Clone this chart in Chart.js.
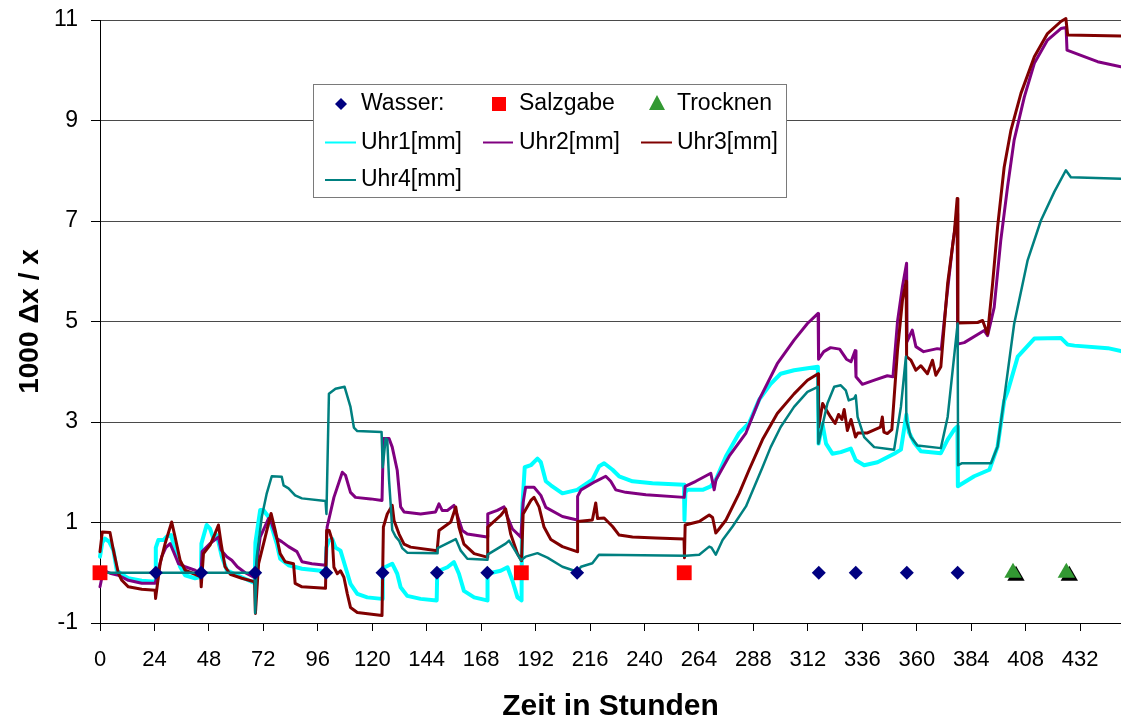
<!DOCTYPE html>
<html>
<head>
<meta charset="utf-8">
<script src="https://cdn.jsdelivr.net/npm/chart.js@4/dist/chart.umd.min.js"></script>
<style>
  html, body { margin: 0; padding: 0; background: #fff; }
  #wrap { width: 1121px; height: 722px; }
</style>
</head>
<body>
<div id="wrap"><canvas id="chart" width="1121" height="722"></canvas></div>
<script>
// Time axis ticks (hours) and strain axis ticks
const xTicks = [0, 24, 48, 72, 96, 120, 144, 168, 192, 216, 240, 264, 288, 312, 336, 360, 384, 408, 432];
const yTicks = [-1, 1, 3, 5, 7, 9, 11];

// Event markers: hour at which each event happened (drawn on the zero line)
const wasserHours = [24.6, 44.6, 68.4, 99.7, 124.5, 148.5, 170.7, 210.3, 316.8, 333.1, 355.6, 378.0];
const salzgabeHours = [0, 185.7, 257.5];
const trocknenHours = [402.4, 425.9];

// Dial gauge readings: [hour, 1000·Δx/x]
const uhr1 = [
  [0,0.32],[1,0.6],[2.2,0.68],[4,0.62],[5.9,0.45],[7.4,0.05],[9.5,-0.03],[12.5,-0.11],[18.4,-0.16],[24.3,-0.18],
  [24.6,0.5],[25.7,0.65],[28,0.65],[29.4,0.72],[31.3,0.75],[33.1,0.45],[35.3,0.12],[37.5,-0.05],[41.9,-0.11],[44.5,-0.08],
  [44.7,0.58],[47,0.95],[48.5,0.88],[50,0.68],[51.5,0.75],[53.7,0.32],[55.9,0.05],[59.6,-0.03],[65.4,-0.15],[68.2,-0.21],
  [68.5,0.6],[70.6,1.25],[72,1.25],[74.3,1.11],[75.7,0.91],[77.9,0.58],[79.4,0.28],[83.1,0.15],[89,0.08],[99.4,0.03],
  [99.8,0.5],[100.9,0.64],[102.4,0.67],[103.8,0.5],[106,0.44],[108.2,0.11],[110.4,-0.22],[113.4,-0.42],[117.8,-0.49],[124.3,-0.52],
  [124.6,0.05],[125.5,0.11],[128.8,0.18],[131,-0.02],[132.5,-0.29],[135.4,-0.46],[141.3,-0.52],[148.4,-0.55],
  [148.6,-0.05],[149.4,0.04],[153.1,0.11],[156,0.21],[158.2,-0.02],[160.4,-0.36],[164.9,-0.49],[170.6,-0.55],
  [170.8,-0.02],[176.6,0.04],[179.6,0.11],[181.8,-0.16],[184,-0.49],[185.8,-0.55],
  [186,1.2],[187.2,2.1],[189.9,2.14],[192.8,2.27],[194.3,2.2],[196.5,1.82],[198.7,1.74],[203.8,1.58],[210.3,1.65],
  [217,1.85],[220,2.12],[222.2,2.18],[225.9,2.05],[228.8,1.92],[234.7,1.82],[243.5,1.78],[257.4,1.75],
  [257.6,1.05],[258,1.6],[258.9,1.65],[265.6,1.65],[269.2,1.72],[271.4,1.85],[275.9,2.32],[281.7,2.78],[286.1,2.98],
  [290.6,3.45],[295.6,3.76],[300,3.96],[305.9,4.03],[316.4,4.1],
  [316.7,2.57],[318.4,2.97],[320,2.57],[322.8,2.37],[326.5,2.4],[330.9,2.47],[333.1,2.24],[336.8,2.14],[342.7,2.2],
  [350,2.37],[353,2.45],[355.4,3.15],[356.5,2.8],[358.9,2.58],[361.8,2.42],[370.6,2.38],[373.6,2.65],[376.5,2.85],[377.9,2.91],
  [378.1,1.72],[385.3,1.92],[392,2.05],[395.6,2.51],[398.5,3.42],[400,3.6],[404.5,4.3],[411.8,4.66],[423.6,4.67],
  [426.5,4.54],[429.5,4.52],[444.2,4.47],[450,4.41]
];

const uhr2 = [
  [0,-0.28],[1.5,0.05],[4.4,-0.01],[8.1,-0.05],[12.5,-0.15],[18.4,-0.21],[24.3,-0.21],
  [27.2,0.32],[29,0.5],[30.9,0.58],[32.4,0.42],[34.6,0.18],[37.5,0.12],[41.9,0.05],[44.5,-0.05],
  [45,0.42],[48.5,0.58],[52.2,0.71],[53.4,0.45],[55.9,0.32],[58.1,0.25],[60.5,0.12],[64,0.0],[68.2,-0.1],
  [70.6,0.71],[74.3,1.08],[75.7,0.98],[77.9,0.68],[80.1,0.62],[83.1,0.52],[86.8,0.42],[89,0.22],[93.4,0.18],[99.5,0.15],
  [100.1,0.91],[103.1,1.5],[106.8,2.0],[108.2,1.94],[110.4,1.6],[112.6,1.5],[119.3,1.47],[124.3,1.44],
  [124.9,2.67],[127.4,2.67],[128.8,2.5],[131,2.04],[132.5,1.31],[134,1.21],[141.3,1.17],[147.9,1.21],[149.4,1.37],
  [150.8,1.24],[153.1,1.24],[156,1.34],[157.5,1.14],[159.7,0.84],[161.9,0.77],[170.6,0.71],
  [170.9,1.17],[175.1,1.24],[178.1,1.31],[179.6,1.11],[181.8,0.87],[185.5,0.71],
  [186.5,1.4],[187.6,1.7],[191.3,1.7],[194.3,1.54],[196.5,1.3],[203.8,1.12],[210.3,1.05],
  [210.5,1.52],[212,1.65],[218.5,1.82],[222.9,1.92],[225.1,1.82],[227.3,1.65],[231.7,1.6],[240.6,1.55],[257.5,1.5],
  [257.9,1.72],[262.6,1.82],[269.2,1.98],[270.7,1.65],[271.5,1.85],[277.3,2.32],[284.7,2.78],[290.6,3.45],[298.5,4.16],
  [305.9,4.63],[311.8,4.96],[316.5,5.16],
  [316.7,4.25],[319,4.4],[322,4.48],[326,4.45],[329,4.25],[331,4.2],[332.8,4.42],[333.2,3.9],[336,3.75],[341,3.83],
  [347,3.92],[349.5,3.9],[351.5,5.0],[353.7,5.7],[355.5,6.16],
  [355.7,4.6],[358,4.83],[359.6,4.5],[363,4.4],[369,4.46],[370.8,4.45],[373,5.4],[376,6.6],[377.8,7.15],
  [378,4.55],[380.9,4.58],[389.7,4.82],[391.2,4.72],[394.1,5.28],[397,6.61],[400,7.68],[402.9,8.61],[407.4,9.47],
  [411.8,10.14],[417.6,10.6],[423.5,10.83],[425.8,10.85],
  [426.2,10.4],[433.8,10.27],[439.7,10.17],[450,10.07]
];

const uhr3 = [
  [0,0.42],[1,0.81],[4.4,0.8],[5.9,0.45],[8.1,-0.01],[9.6,-0.15],[12.5,-0.28],[18.4,-0.33],[24.3,-0.35],[24.5,-0.51],
  [26.5,0.18],[28.7,0.58],[31.6,1.01],[33.1,0.71],[35.3,0.25],[37.5,0.05],[41.9,-0.03],[44.4,-0.08],[44.6,-0.28],
  [45.6,0.38],[48.5,0.55],[50.7,0.78],[52.2,0.95],[53.4,0.58],[55.1,0.12],[57.4,-0.03],[62.5,-0.11],[68.1,-0.18],[68.5,-0.81],
  [69.9,0.18],[72.8,0.71],[75.4,1.18],[77.2,0.85],[79.4,0.38],[81.6,0.22],[85.3,0.18],[86,-0.21],[89,-0.28],[99.4,-0.31],
  [99.9,0.84],[101,0.84],[102.4,0.64],[103.1,0.11],[104.6,-0.02],[106,0.04],[107.5,-0.09],[109,-0.42],[110.4,-0.69],
  [113.4,-0.79],[124.3,-0.85],
  [124.9,0.91],[126.6,1.17],[128.8,1.34],[129.6,1.04],[131.8,0.77],[134,0.57],[136.9,0.51],[148.6,0.44],
  [149.4,0.84],[154.6,1.01],[156.8,1.31],[158.2,0.91],[160.4,0.57],[164.9,0.38],[170.6,0.31],
  [170.9,0.91],[176.6,1.14],[178.8,1.27],[181,0.77],[184,0.38],[185.8,0.24],
  [186.5,1.17],[189.9,1.44],[191.3,1.5],[193.5,1.31],[195.7,0.91],[198.7,0.66],[203.8,0.52],[210.3,0.42],
  [210.5,1.02],[217,1.05],[218.5,1.39],[219.3,1.08],[222.2,1.09],[225.9,0.92],[228.8,0.75],[234.7,0.71],[245,0.69],
  [257.4,0.67],[257.6,0.3],[257.9,0.95],
  [264.1,1.02],[268.5,1.15],[270,1.1],[271.4,0.79],[272.5,0.85],[275.9,1.05],[281.7,1.58],[286.1,2.05],[292,2.65],
  [298.5,3.17],[305.9,3.56],[311.8,3.83],[316.5,3.96],
  [316.7,2.9],[318.5,3.37],[320,3.25],[322,3.1],[324,2.97],[325.5,3.15],[327,3.05],[328,3.25],[329.4,2.83],[331,3.05],
  [333,2.7],[334,2.78],[338,2.78],[344,2.9],[344.8,3.1],[345.5,2.8],[347,2.77],[349,2.85],[351.5,4.43],[353.7,5.43],[355.3,5.8],
  [355.5,4.3],[357.4,4.23],[359.6,4.03],[361.8,4.12],[364.7,3.96],[366.9,4.23],[368.4,3.93],[370.6,4.1],[373.6,5.76],
  [376.5,6.75],[377.8,7.45],
  [378.1,4.97],[386.8,4.98],[389,5.02],[391.2,4.75],[393.4,5.75],[395.6,6.88],[398.5,8.07],[401.5,8.81],[405.9,9.54],
  [411.8,10.27],[417.6,10.73],[423.5,10.97],[425.7,11.03],
  [426.5,10.7],[450,10.68]
];

const uhr4 = [
  [0,0],[68.2,0],[68.4,-0.8],[69.1,0.32],[71.3,1.11],[73.5,1.58],[75.7,1.92],[80.1,1.91],[80.9,1.74],[83.1,1.68],
  [86,1.54],[89,1.48],[99.4,1.43],
  [99.8,1.17],[100.9,3.56],[103.8,3.66],[107.8,3.7],[110.4,3.3],[111.9,2.89],[113.4,2.82],[124.1,2.8],
  [124.6,2.1],[125.9,2.67],[126.6,2.65],[127.4,1.84],[128.1,1.37],[128.8,0.85],[130.3,0.72],[131.8,0.64],[133.2,0.49],
  [135.4,0.4],[148.6,0.39],
  [148.8,0.49],[156.8,0.67],[159,0.44],[161.9,0.28],[170.6,0.26],[170.8,0.36],[178.8,0.58],[180.3,0.64],[185.5,0.25],
  [187.6,0.32],[192.8,0.39],[197.2,0.3],[203.8,0.12],[210.4,0.02],[212,0.12],[217,0.19],[219.2,0.32],[220,0.36],
  [258.2,0.34],[264.1,0.36],[268.5,0.52],[269.5,0.5],[271.4,0.36],[274.4,0.65],[278.8,0.92],[284.7,1.32],[292,2.1],
  [295.6,2.5],[300,2.9],[305.9,3.3],[311.8,3.6],[316.4,3.7],
  [316.6,2.57],[320.6,3.37],[323.6,3.7],[326.5,3.73],[328.7,3.63],[330,3.43],[332.4,3.47],[333.1,3.53],[333.9,3.1],
  [336.8,2.7],[341.2,2.5],[350,2.45],[353,3.3],[355.2,4.3],
  [355.4,3.03],[357.4,2.7],[360.3,2.53],[370.6,2.48],[373.6,3.1],[378,4.96],
  [378.2,2.14],[380,2.18],[392.7,2.18],[395.6,2.51],[398.6,3.5],[402.9,4.95],[408.8,6.21],[414.7,7.01],[420.6,7.58],
  [425.7,8.01],[427.9,7.87],[450,7.84]
];

const FONT = '"Liberation Sans", Arial, Helvetica, sans-serif';

const toPoints = arr => arr.map(([x, y]) => ({ x, y }));
const onZero = hours => hours.map(x => ({ x, y: 0 }));

function lineSet(label, data, color, width, order) {
  return {
    type: 'line', label, data: toPoints(data),
    borderColor: color, backgroundColor: color, borderWidth: width,
    borderJoinStyle: 'round', borderCapStyle: 'round', pointRadius: 0, fill: false, tension: 0,
    clip: false, order, legendKind: 'line'
  };
}
function markerSet(label, hours, style, radius, color, order, shadow) {
  return {
    type: 'scatter', label, data: onZero(hours), showLine: false,
    pointStyle: style, pointRadius: radius, pointHoverRadius: radius,
    pointBackgroundColor: color, pointBorderColor: color, pointBorderWidth: 0,
    backgroundColor: color, borderColor: color,
    clip: false, order, legendKind: 'marker', shadow: !!shadow
  };
}

const datasets = [
  markerSet('Wasser:', wasserHours, 'rectRot', 7, '#000080', 0),
  markerSet('Salzgabe', salzgabeHours, 'rect', 10.5, '#FF0000', 0),
  markerSet('Trocknen', trocknenHours, 'triangle', 10, '#339933', 0, true),
  lineSet('Uhr1[mm]', uhr1, '#00FFFF', 4, 4),
  lineSet('Uhr2[mm]', uhr2, '#800080', 3, 3),
  lineSet('Uhr3[mm]', uhr3, '#800000', 3, 2),
  lineSet('Uhr4[mm]', uhr4, '#008080', 2.5, 1)
];

// Hard black drop shadow under the drying markers
const markerShadow = {
  id: 'markerShadow',
  beforeDatasetDraw(chart, args) {
    if (chart.data.datasets[args.index].shadow) {
      const c = chart.ctx;
      c.save();
      c.shadowColor = '#000';
      c.shadowOffsetX = 3;
      c.shadowOffsetY = 3;
      c.shadowBlur = 0;
    }
  },
  afterDatasetDraw(chart, args) {
    if (chart.data.datasets[args.index].shadow) chart.ctx.restore();
  }
};

// Boxed legend inside the plot, three entries per row
const boxLegend = {
  id: 'boxLegend',
  afterDraw(chart) {
    const c = chart.ctx;
    const box = { x: 313.5, y: 84.5, w: 473, h: 113 };
    const cols = [{ sym: 341, line: [325, 356], text: 361 },
                  { sym: 499, line: [483, 513], text: 519 },
                  { sym: 657, line: [641, 672], text: 677 }];
    const rows = [104, 142.5, 180];
    c.save();
    c.fillStyle = '#fff';
    c.fillRect(box.x, box.y, box.w, box.h);
    c.strokeStyle = '#7a7a7a';
    c.lineWidth = 1;
    c.strokeRect(box.x, box.y, box.w, box.h);
    c.font = '23px ' + FONT;
    c.textBaseline = 'middle';
    c.textAlign = 'left';
    chart.data.datasets.forEach((ds, i) => {
      const col = cols[i % 3], y = rows[Math.floor(i / 3)];
      c.fillStyle = ds.backgroundColor;
      c.strokeStyle = ds.borderColor;
      if (ds.legendKind === 'line') {
        c.lineWidth = 2;
        c.beginPath();
        c.moveTo(col.line[0], y);
        c.lineTo(col.line[1], y);
        c.stroke();
      } else {
        const x = col.sym;
        c.beginPath();
        if (ds.pointStyle === 'rectRot') {
          c.moveTo(x - 6, y); c.lineTo(x, y - 6); c.lineTo(x + 6, y); c.lineTo(x, y + 6);
        } else if (ds.pointStyle === 'rect') {
          c.rect(x - 7, y - 7, 14, 14);
        } else {
          c.moveTo(x, y - 9); c.lineTo(x + 8, y + 6); c.lineTo(x - 8, y + 6);
        }
        c.closePath();
        c.fill();
      }
      c.fillStyle = '#000';
      c.fillText(ds.label, col.text, y);
    });
    c.restore();
  }
};

new Chart(document.getElementById('chart'), {
  data: { datasets },
  plugins: [markerShadow, boxLegend],
  options: {
    responsive: false,
    animation: false,
    devicePixelRatio: 1,
    layout: { autoPadding: false, padding: { top: 20, right: 0, bottom: 0, left: 0 } },
    plugins: { legend: { display: false }, tooltip: { enabled: false } },
    scales: {
      x: {
        type: 'linear', min: 0, max: 450,
        afterBuildTicks: s => { s.ticks = xTicks.map(v => ({ value: v })); },
        afterFit: s => { s.height = 99; s.paddingLeft = 0; s.paddingRight = 0; },
        grid: { drawOnChartArea: false, drawTicks: true, tickLength: 8, tickColor: '#000', color: '#000' },
        border: { color: '#000', width: 1 },
        ticks: { color: '#000', font: { family: FONT, size: 22 }, padding: 16, maxRotation: 0, autoSkip: false },
        title: { display: true, text: 'Zeit in Stunden', color: '#000',
                 font: { family: FONT, size: 30, weight: 'bold', lineHeight: 1 }, padding: 0 }
      },
      y: {
        type: 'linear', min: -1, max: 11,
        afterBuildTicks: s => { s.ticks = yTicks.map(v => ({ value: v })); },
        afterFit: s => { s.width = 100; s.paddingTop = 0; s.paddingBottom = 0; },
        grid: { color: '#4a4a4a', lineWidth: 1, tickColor: '#000', tickLength: 9 },
        border: { color: '#000', width: 1 },
        ticks: { color: '#000', font: { family: FONT, size: 23 }, padding: 13 },
        title: { display: true, text: '1000 Δx / x', color: '#000',
                 font: { family: FONT, size: 28, weight: 'bold', lineHeight: 1 }, padding: { top: 16, bottom: 0 } }
      }
    }
  }
});
</script>
</body>
</html>
